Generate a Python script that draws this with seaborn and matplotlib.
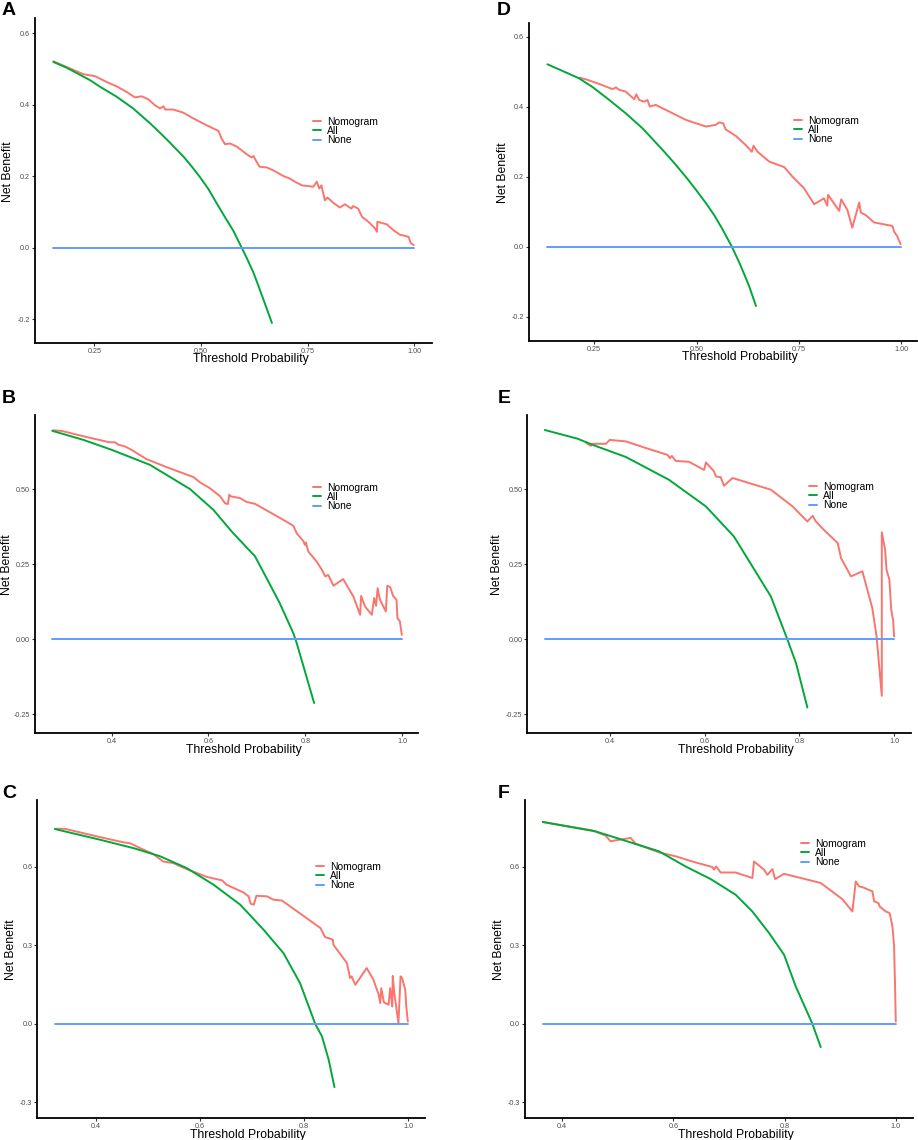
import pandas as pd
import matplotlib
matplotlib.use("Agg")
import matplotlib.pyplot as plt
import seaborn as sns

sns.set_style("white")
plt.rcParams['font.family'] = ['Liberation Sans', 'DejaVu Sans']
plt.rcParams['text.color'] = 'black'
plt.rcParams['axes.labelcolor'] = 'black'

series_names = ["Nomogram", "All", "None"]
colors = {"Nomogram": "#F8766D", "All": "#00A83A", "None": "#619CFF"}

# ---- panel A ----
a_nomo_x = [0.154, 0.224, 0.252, 0.279, 0.302, 0.326, 0.345, 0.361, 0.377, 0.392, 0.404, 0.412, 0.416,
            0.435, 0.459, 0.482, 0.513, 0.541, 0.548, 0.556, 0.568, 0.584, 0.607, 0.618, 0.623, 0.630,
            0.637, 0.654, 0.669, 0.693, 0.708, 0.720, 0.736, 0.763, 0.771, 0.777, 0.782, 0.790, 0.796,
            0.810, 0.825, 0.837, 0.852, 0.856, 0.868, 0.877, 0.892, 0.908, 0.912, 0.913, 0.935, 0.951,
            0.966, 0.986, 0.991, 0.998]
a_nomo_y = [0.521, 0.485, 0.479, 0.463, 0.451, 0.435, 0.420, 0.423, 0.414, 0.398, 0.389, 0.395, 0.386,
            0.386, 0.377, 0.361, 0.342, 0.326, 0.305, 0.289, 0.291, 0.282, 0.261, 0.252, 0.256, 0.240,
            0.226, 0.224, 0.216, 0.200, 0.193, 0.184, 0.174, 0.170, 0.184, 0.165, 0.174, 0.132, 0.140,
            0.125, 0.112, 0.121, 0.109, 0.116, 0.109, 0.086, 0.072, 0.053, 0.044, 0.072, 0.065, 0.048,
            0.036, 0.030, 0.013, 0.007]
a_all_x = [0.154, 0.185, 0.240, 0.263, 0.302, 0.341, 0.380, 0.396, 0.420, 0.459, 0.478, 0.498, 0.517,
           0.537, 0.556, 0.576, 0.595, 0.607, 0.623, 0.634, 0.646, 0.666]
a_all_y = [0.519, 0.503, 0.468, 0.450, 0.422, 0.389, 0.348, 0.330, 0.302, 0.254, 0.227, 0.196, 0.164,
           0.123, 0.085, 0.046, 0.0, -0.029, -0.071, -0.106, -0.145, -0.211]
a_none_x = [0.154, 1.0]

# ---- panel B ----
b_nomo_x = [0.278, 0.297, 0.342, 0.396, 0.407, 0.414, 0.428, 0.441, 0.472, 0.514, 0.569, 0.583, 0.603,
            0.624, 0.634, 0.640, 0.643, 0.646, 0.665, 0.679, 0.696, 0.720, 0.754, 0.775, 0.782, 0.796,
            0.799, 0.801, 0.806, 0.823, 0.834, 0.841, 0.847, 0.858, 0.878, 0.899, 0.913, 0.915, 0.923,
            0.937, 0.942, 0.946, 0.949, 0.954, 0.966, 0.969, 0.975, 0.981, 0.988, 0.990, 0.995, 0.999]
b_nomo_y = [0.696, 0.694, 0.676, 0.656, 0.656, 0.648, 0.642, 0.631, 0.600, 0.573, 0.540, 0.522, 0.503,
            0.476, 0.453, 0.450, 0.481, 0.476, 0.470, 0.457, 0.451, 0.429, 0.398, 0.378, 0.353, 0.326,
            0.314, 0.322, 0.292, 0.259, 0.231, 0.209, 0.214, 0.178, 0.200, 0.142, 0.081, 0.144, 0.109,
            0.081, 0.137, 0.111, 0.170, 0.131, 0.092, 0.178, 0.173, 0.144, 0.131, 0.070, 0.059, 0.014]
b_all_x = [0.278, 0.342, 0.400, 0.479, 0.562, 0.610, 0.651, 0.696, 0.720, 0.747, 0.775, 0.782, 0.802, 0.818]
b_all_y = [0.694, 0.664, 0.631, 0.581, 0.500, 0.431, 0.353, 0.276, 0.203, 0.120, 0.020, -0.013, -0.124, -0.213]
b_none_x = [0.278, 1.0]

# ---- panel C ----
c_nomo_x = [0.321, 0.340, 0.408, 0.453, 0.465, 0.485, 0.510, 0.529, 0.548, 0.574, 0.613, 0.642, 0.651,
            0.683, 0.693, 0.697, 0.703, 0.708, 0.728, 0.741, 0.757, 0.831, 0.840, 0.847, 0.855, 0.856,
            0.882, 0.888, 0.891, 0.898, 0.920, 0.933, 0.943, 0.946, 0.948, 0.953, 0.962, 0.965, 0.969,
            0.970, 0.973, 0.981, 0.985, 0.988, 0.994, 0.996, 0.999]
c_nomo_y = [0.745, 0.745, 0.713, 0.693, 0.690, 0.671, 0.648, 0.620, 0.614, 0.591, 0.561, 0.548, 0.531,
            0.502, 0.487, 0.459, 0.455, 0.489, 0.487, 0.474, 0.471, 0.366, 0.331, 0.327, 0.321, 0.302,
            0.232, 0.175, 0.181, 0.149, 0.213, 0.168, 0.111, 0.079, 0.136, 0.082, 0.073, 0.136, 0.066,
            0.183, 0.117, 0.003, 0.181, 0.175, 0.130, 0.066, 0.009]
c_all_x = [0.321, 0.408, 0.472, 0.523, 0.574, 0.626, 0.677, 0.722, 0.760, 0.792, 0.821, 0.834, 0.847, 0.858]
c_all_y = [0.744, 0.703, 0.671, 0.640, 0.595, 0.531, 0.455, 0.359, 0.270, 0.155, 0.0, -0.048, -0.138, -0.242]
c_none_x = [0.321, 1.0]

# ---- panel D ----
d_nomo_x = [0.213, 0.230, 0.262, 0.295, 0.303, 0.311, 0.327, 0.348, 0.353, 0.360, 0.372, 0.380, 0.386,
            0.400, 0.433, 0.474, 0.523, 0.547, 0.555, 0.565, 0.571, 0.596, 0.620, 0.635, 0.639, 0.649,
            0.677, 0.714, 0.734, 0.762, 0.787, 0.811, 0.819, 0.821, 0.848, 0.853, 0.868, 0.880, 0.897,
            0.901, 0.913, 0.933, 0.978, 0.982, 0.990, 0.998]
d_nomo_y = [0.483, 0.478, 0.465, 0.450, 0.455, 0.448, 0.443, 0.421, 0.435, 0.419, 0.414, 0.419, 0.400,
            0.405, 0.386, 0.362, 0.343, 0.348, 0.355, 0.352, 0.335, 0.316, 0.290, 0.271, 0.288, 0.271,
            0.243, 0.227, 0.200, 0.167, 0.121, 0.138, 0.117, 0.148, 0.102, 0.135, 0.105, 0.054, 0.126,
            0.097, 0.090, 0.069, 0.059, 0.043, 0.029, 0.007]
d_all_x = [0.136, 0.165, 0.213, 0.246, 0.287, 0.327, 0.368, 0.392, 0.425, 0.449, 0.474, 0.498, 0.523,
           0.543, 0.563, 0.586, 0.604, 0.612, 0.628, 0.645]
d_all_y = [0.521, 0.506, 0.481, 0.456, 0.419, 0.381, 0.338, 0.308, 0.266, 0.234, 0.199, 0.163, 0.124,
           0.090, 0.050, 0.0, -0.045, -0.067, -0.112, -0.170]
d_none_x = [0.136, 1.0]

# ---- panel E ----
e_nomo_x = [0.349, 0.360, 0.363, 0.392, 0.400, 0.434, 0.476, 0.522, 0.527, 0.531, 0.539, 0.567, 0.599,
            0.603, 0.620, 0.624, 0.634, 0.641, 0.659, 0.740, 0.786, 0.817, 0.828, 0.835, 0.852, 0.881,
            0.888, 0.909, 0.933, 0.954, 0.963, 0.974, 0.974, 0.981, 0.984, 0.990, 0.994, 0.998, 1.0]
e_nomo_y = [0.656, 0.644, 0.651, 0.651, 0.664, 0.659, 0.637, 0.614, 0.603, 0.611, 0.594, 0.591, 0.564,
            0.589, 0.559, 0.542, 0.540, 0.511, 0.537, 0.498, 0.442, 0.392, 0.411, 0.392, 0.364, 0.320,
            0.270, 0.209, 0.226, 0.103, 0.009, -0.189, 0.356, 0.298, 0.231, 0.198, 0.096, 0.062, 0.009]
e_all_x = [0.263, 0.332, 0.363, 0.434, 0.525, 0.603, 0.662, 0.740, 0.775, 0.793, 0.817]
e_all_y = [0.697, 0.668, 0.648, 0.607, 0.531, 0.442, 0.342, 0.142, -0.002, -0.080, -0.228]
e_none_x = [0.263, 1.0]

# ---- panel F ----
f_nomo_x = [0.365, 0.412, 0.454, 0.478, 0.487, 0.496, 0.523, 0.532, 0.574, 0.604, 0.634, 0.670, 0.673,
            0.677, 0.685, 0.712, 0.742, 0.745, 0.763, 0.769, 0.778, 0.783, 0.799, 0.865, 0.904, 0.922,
            0.928, 0.934, 0.940, 0.958, 0.961, 0.969, 0.971, 0.982, 0.989, 0.994, 0.997, 0.999, 1.0]
f_nomo_y = [0.771, 0.754, 0.739, 0.719, 0.697, 0.701, 0.710, 0.688, 0.655, 0.640, 0.620, 0.599, 0.589,
            0.601, 0.578, 0.578, 0.557, 0.620, 0.589, 0.569, 0.591, 0.553, 0.573, 0.538, 0.476, 0.429,
            0.544, 0.525, 0.522, 0.506, 0.468, 0.461, 0.448, 0.429, 0.423, 0.372, 0.296, 0.117, 0.009]
f_all_x = [0.365, 0.460, 0.526, 0.574, 0.622, 0.667, 0.712, 0.742, 0.772, 0.799, 0.820, 0.850, 0.865]
f_all_y = [0.771, 0.735, 0.691, 0.659, 0.601, 0.553, 0.493, 0.429, 0.347, 0.264, 0.143, 0.0, -0.089]
f_none_x = [0.365, 1.0]

# ticks
x_ticks_ad = [0.25, 0.50, 0.75, 1.00]
x_labels_ad = ["0.25", "0.50", "0.75", "1.00"]
x_ticks_other = [0.4, 0.6, 0.8, 1.0]
x_labels_other = ["0.4", "0.6", "0.8", "1.0"]
y_ticks_ad = [-0.2, 0.0, 0.2, 0.4, 0.6]
y_labels_ad = ["-0.2", "0.0", "0.2", "0.4", "0.6"]
y_ticks_be = [-0.25, 0.0, 0.25, 0.50]
y_labels_be = ["-0.25", "0.00", "0.25", "0.50"]
y_ticks_cf = [-0.3, 0.0, 0.3, 0.6]
y_labels_cf = ["-0.3", "0.0", "0.3", "0.6"]

W, H = 918, 1140
fig = plt.figure(figsize=(W / 100, H / 100), dpi=100)

# pixel layout of each panel (left, right, top, bottom)
panels = [
    dict(tag="A", nx=a_nomo_x, ny=a_nomo_y, ax_=a_all_x, ay=a_all_y, nonex=a_none_x,
         box=(35, 432, 18, 343), xlim=(0.111, 1.041), ylim=(-0.267, 0.642),
         xt=x_ticks_ad, xl=x_labels_ad, yt=y_ticks_ad, yl=y_labels_ad,
         leg=(313, 131), letter=(2, 15), ylab_x=-26.7),
    dict(tag="D", nx=d_nomo_x, ny=d_nomo_y, ax_=d_all_x, ay=d_all_y, nonex=d_none_x,
         box=(529, 917, 23, 340.7), xlim=(0.091, 1.038), ylim=(-0.269, 0.639),
         xt=x_ticks_ad, xl=x_labels_ad, yt=y_ticks_ad, yl=y_labels_ad,
         leg=(794, 130), letter=(497, 15), ylab_x=-25.7),
    dict(tag="B", nx=b_nomo_x, ny=b_nomo_y, ax_=b_all_x, ay=b_all_y, nonex=b_none_x,
         box=(35, 418.3, 415, 733.3), xlim=(0.242, 1.033), ylim=(-0.314, 0.747),
         xt=x_ticks_other, xl=x_labels_other, yt=y_ticks_be, yl=y_labels_be,
         leg=(313, 497), letter=(2, 403), ylab_x=-28.5),
    dict(tag="E", nx=e_nomo_x, ny=e_nomo_y, ax_=e_all_x, ay=e_all_y, nonex=e_none_x,
         box=(527.3, 910.7, 415, 733.3), xlim=(0.226, 1.035), ylim=(-0.314, 0.747),
         xt=x_ticks_other, xl=x_labels_other, yt=y_ticks_be, yl=y_labels_be,
         leg=(809, 496), letter=(498, 403), ylab_x=-30),
    dict(tag="C", nx=c_nomo_x, ny=c_nomo_y, ax_=c_all_x, ay=c_all_y, nonex=c_none_x,
         box=(37.3, 425, 800, 1118.3), xlim=(0.287, 1.032), ylim=(-0.361, 0.855),
         xt=x_ticks_other, xl=x_labels_other, yt=y_ticks_cf, yl=y_labels_cf,
         leg=(316, 876), letter=(2, 798), ylab_x=-26.3),
    dict(tag="F", nx=f_nomo_x, ny=f_nomo_y, ax_=f_all_x, ay=f_all_y, nonex=f_none_x,
         box=(525, 913, 800, 1118.3), xlim=(0.333, 1.031), ylim=(-0.361, 0.855),
         xt=x_ticks_other, xl=x_labels_other, yt=y_ticks_cf, yl=y_labels_cf,
         leg=(801, 853), letter=(498, 798), ylab_x=-26),
]

for p in panels:
    l, r, t, b = p["box"]
    ax = fig.add_axes([l / W, 1 - b / H, (r - l) / W, (b - t) / H])

    df = pd.concat([
        pd.DataFrame({"x": p["nx"], "y": p["ny"], "Series": "Nomogram"}),
        pd.DataFrame({"x": p["ax_"], "y": p["ay"], "Series": "All"}),
        pd.DataFrame({"x": p["nonex"], "y": [0.0] * len(p["nonex"]), "Series": "None"}),
    ], ignore_index=True)

    sns.lineplot(data=df, x="x", y="y", hue="Series", hue_order=series_names,
                 palette=colors, sort=False, estimator=None, linewidth=1.4, ax=ax)

    ax.set_xlim(*p["xlim"])
    ax.set_ylim(*p["ylim"])
    ax.set_xticks(p["xt"])
    ax.set_xticklabels(p["xl"])
    ax.set_yticks(p["yt"])
    ax.set_yticklabels(p["yl"])
    ax.tick_params(axis="both", length=2, width=0.8, color="#333333", pad=1.5,
                   labelsize=5.2, labelcolor="#4D4D4D", direction="out")
    ax.tick_params(left=True, bottom=True)
    sns.despine(ax=ax)
    for s in ["left", "bottom"]:
        ax.spines[s].set_linewidth(1.3)
        ax.spines[s].set_color("black")

    ax.set_xlabel("Threshold Probability", fontsize=8.8)
    ax.set_ylabel("Net Benefit", fontsize=8.8)
    ax.xaxis.set_label_coords(0.544, -10.5 / (b - t))
    ax.xaxis.label.set_verticalalignment("top")
    ax.yaxis.set_label_coords(p["ylab_x"] / (r - l), 0.5 + 9 / (b - t))
    ax.yaxis.label.set_verticalalignment("center")

    lx, ly = p["leg"]
    ax.legend(title=None, frameon=False, fontsize=7.4, loc="center left",
              bbox_to_anchor=(lx / W, 1 - ly / H), bbox_transform=fig.transFigure,
              borderpad=0, borderaxespad=0, handlelength=0.8, handletextpad=0.6,
              labelspacing=-0.05)

    fx, fy = p["letter"]
    fig.text(fx / W, 1 - fy / H, p["tag"], fontsize=14, fontweight="bold",
             color="black", ha="left", va="baseline")

fig.savefig("out.png", dpi=100)
